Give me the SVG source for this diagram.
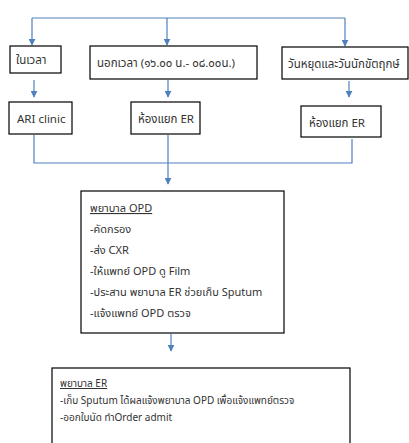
<svg xmlns="http://www.w3.org/2000/svg" width="409" height="443" viewBox="0 0 409 443">
  <style>
    .box { fill: #ffffff; stroke: #000000; stroke-width: 1.2; }
    .conn { fill: none; stroke: #4f81bd; stroke-width: 1.2; }
    .lbl { font-family: "Noto Sans Thai", "Noto Sans", "Liberation Sans", sans-serif; font-size: 11.5px; fill: #333333; }
    .md { font-size: 11px; }
    .sm { font-size: 10px; }
    .u { text-decoration: underline; }
  </style>
  <defs>
    <marker id="arrow" viewBox="0 0 10 10" refX="9" refY="5" markerWidth="7" markerHeight="7" markerUnits="userSpaceOnUse" orient="auto">
      <path d="M0,0 L10,5 L0,10 z" fill="#4f81bd"/>
    </marker>
  </defs>

  <g id="connectors">
    <!-- top distribution bar -->
    <path class="conn" d="M32,18 H345"/>
    <path class="conn" d="M32,18 V45" marker-end="url(#arrow)"/>
    <path class="conn" d="M167,18 V45" marker-end="url(#arrow)"/>
    <path class="conn" d="M345,18 V46" marker-end="url(#arrow)"/>
    <!-- first row to second row -->
    <path class="conn" d="M34,80 V97" marker-end="url(#arrow)"/>
    <path class="conn" d="M168,80 V97" marker-end="url(#arrow)"/>
    <path class="conn" d="M349,81 V97" marker-end="url(#arrow)"/>
    <!-- merge bar -->
    <path class="conn" d="M34,135 V163 H352 V139"/>
    <path class="conn" d="M168,135 V184" marker-end="url(#arrow)"/>
    <!-- OPD to ER -->
    <path class="conn" d="M171,334 V351" marker-end="url(#arrow)"/>
  </g>

  <g id="in-hours">
    <rect class="box" x="10" y="46" width="51" height="27"/>
    <text class="lbl" x="16" y="64">ในเวลา</text>
  </g>
  <g id="after-hours">
    <rect class="box" x="90" y="46" width="167" height="33"/>
    <text class="lbl" x="97" y="67">นอกเวลา (๑๖.๐๐ น.- ๐๘.๐๐น.)</text>
  </g>
  <g id="holidays">
    <rect class="box" x="282" y="47" width="126" height="32"/>
    <text class="lbl" x="288" y="68">วันหยุดและวันนักขัตฤกษ์</text>
  </g>

  <g id="ari-clinic">
    <rect class="box" x="9" y="102" width="63" height="32"/>
    <text class="lbl" x="17" y="123">ARI clinic</text>
  </g>
  <g id="er-room-1">
    <rect class="box" x="131" y="102" width="69" height="32"/>
    <text class="lbl" x="138" y="123">ห้องแยก ER</text>
  </g>
  <g id="er-room-2">
    <rect class="box" x="301" y="106" width="80" height="31"/>
    <text class="lbl" x="309" y="127">ห้องแยก ER</text>
  </g>

  <g id="opd-nurse">
    <rect class="box" x="81" y="191" width="203" height="142"/>
    <text class="lbl md u" x="90" y="212">พยาบาล OPD</text>
    <text class="lbl md" x="90" y="233">-คัดกรอง</text>
    <text class="lbl md" x="90" y="254">-ส่ง CXR</text>
    <text class="lbl md" x="90" y="275">-ให้แพทย์ OPD ดู Film</text>
    <text class="lbl md" x="90" y="296">-ประสาน พยาบาล ER ช่วยเก็บ Sputum</text>
    <text class="lbl md" x="90" y="317">-แจ้งแพทย์ OPD ตรวจ</text>
  </g>

  <g id="er-nurse">
    <rect class="box" x="52" y="368" width="298" height="90"/>
    <text class="lbl sm u" x="60" y="387">พยาบาล ER</text>
    <text class="lbl sm" x="60" y="404">-เก็บ Sputum ได้ผลแจ้งพยาบาล OPD เพื่อแจ้งแพทย์ตรวจ</text>
    <text class="lbl sm" x="60" y="421">-ออกใบนัด ทำOrder admit</text>
  </g>
</svg>
